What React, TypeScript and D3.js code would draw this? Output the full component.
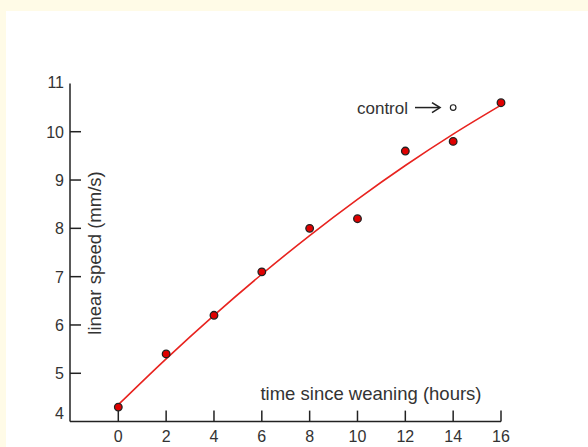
import React from 'react'
import * as d3 from 'd3'

const width = 588
const height = 447
const margin = { top: 83.4, right: 87, bottom: 25.4, left: 118.3 }

// measured points
const hours = [0, 2, 4, 6, 8, 10, 12, 14, 16]
const speed = [4.3, 5.4, 6.2, 7.1, 8.0, 8.2, 9.6, 9.8, 10.6]
// fitted curve, read at the ticks
const fitHours = [0, 2, 4, 6, 8, 10, 12, 14, 16]
const fitSpeed = [4.35, 5.3, 6.2, 7.05, 7.85, 8.6, 9.3, 9.95, 10.55]
// control value
const controlHour = 14
const controlSpeed = 10.5

const xTicks = [0, 2, 4, 6, 8, 10, 12, 14, 16]
const yTicks = [4, 5, 6, 7, 8, 9, 10, 11]

const font = '"Liberation Sans", Arial, sans-serif'

export default function App() {
  const x = d3.scaleLinear().domain([0, 16]).range([margin.left, width - margin.right])
  const y = d3.scaleLinear().domain([4, 11]).range([height - margin.bottom, margin.top])
  const axisX = 70
  const axisY = y(4)

  const line = d3.line<number>()
    .x((d, i) => x(fitHours[i]))
    .y(d => y(d))
    .curve(d3.curveMonotoneX)

  return (
    <svg width={width} height={height} style={{ position: 'absolute', left: 0, top: 0 }}>
      <rect x={0} y={0} width={width} height={height} fill="#fffbe7" />
      <rect x={6} y={11} width={width - 6} height={height - 11} fill="#fff" />

      {/* axes */}
      <line x1={axisX} x2={axisX} y1={y(11)} y2={axisY} stroke="#222" strokeWidth={1.5} />
      <line x1={axisX} x2={x(16)} y1={axisY} y2={axisY} stroke="#222" strokeWidth={1.5} />
      {yTicks.map(t => (
        <g key={'y' + t}>
          {t > 4 && t < 11 && (
            <line x1={axisX} x2={axisX + 11} y1={y(t)} y2={y(t)} stroke="#222" strokeWidth={1.5} />
          )}
          <text x={axisX - 6} y={y(t) + (t === 4 ? -3 : t === 11 ? 5 : 6)} textAnchor="end"
            fontFamily={font} fontSize={16} fill="#333">{t}</text>
        </g>
      ))}
      {xTicks.map(t => (
        <g key={'x' + t}>
          <line x1={x(t)} x2={x(t)} y1={axisY} y2={axisY - 11} stroke="#222" strokeWidth={1.5} />
          <text x={x(t)} y={axisY + 20} textAnchor="middle"
            fontFamily={font} fontSize={16} fill="#333">{t}</text>
        </g>
      ))}

      {/* titles */}
      <text x={371} y={400} textAnchor="middle" fontFamily={font} fontSize={18.5} fill="#333">
        time since weaning (hours)
      </text>
      <text transform={`translate(101,253) rotate(-90)`} textAnchor="middle"
        fontFamily={font} fontSize={18.5} fill="#333">
        linear speed (mm/s)
      </text>

      {/* fit */}
      <path d={line(fitSpeed) || ''} fill="none" stroke="#e8231f" strokeWidth={1.6} />

      {/* points */}
      {hours.map((h, i) => (
        <circle key={'p' + h} cx={x(h)} cy={y(speed[i])} r={3.8}
          fill="#e00000" stroke="#222" strokeWidth={1.3} />
      ))}

      {/* control */}
      <text x={408} y={y(controlSpeed) + 6} textAnchor="end" fontFamily={font} fontSize={17} fill="#333">
        control
      </text>
      <line x1={415} x2={439} y1={y(controlSpeed)} y2={y(controlSpeed)} stroke="#222" strokeWidth={1.5} />
      <path d={`M432,${y(controlSpeed) - 5} L440,${y(controlSpeed)} L432,${y(controlSpeed) + 5}`}
        fill="none" stroke="#222" strokeWidth={1.6} />
      <circle cx={x(controlHour)} cy={y(controlSpeed)} r={2.8} fill="#fff" stroke="#222" strokeWidth={1.2} />
    </svg>
  )
}
